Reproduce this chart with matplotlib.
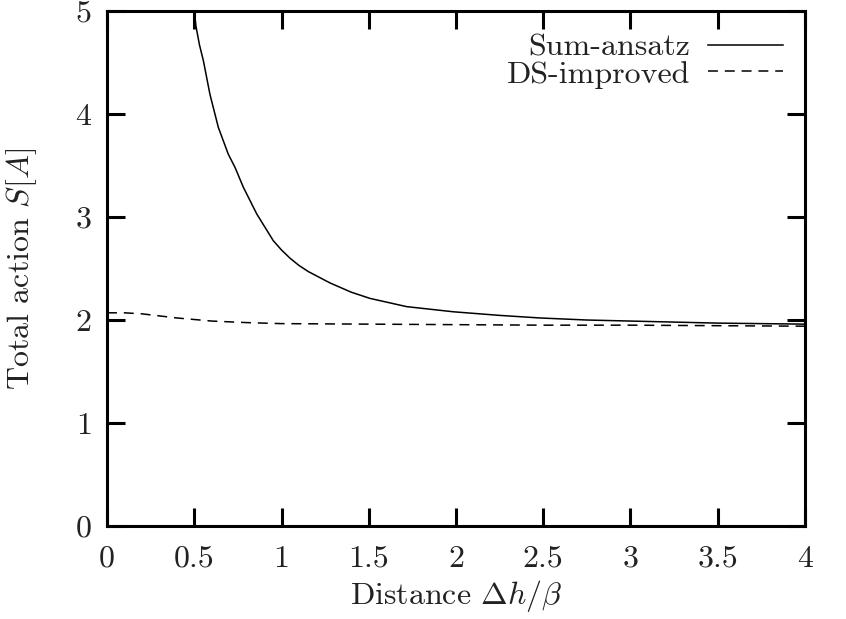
import matplotlib
matplotlib.use("Agg")
import matplotlib.pyplot as plt
import numpy as np

plt.rcParams['font.family'] = 'serif'
plt.rcParams['font.serif'] = ['cmr10']
plt.rcParams['mathtext.fontset'] = 'cm'
plt.rcParams['axes.formatter.use_mathtext'] = True

# Sum-ansatz curve
sum_x = [0.5, 0.51, 0.53, 0.552, 0.59, 0.638, 0.695, 0.734, 0.781, 0.858, 0.953, 1.0, 1.049,
         1.1, 1.154, 1.278, 1.4, 1.507, 1.717, 1.985, 2.25, 2.481, 2.75, 3.0, 3.5, 4.0]
sum_y = [5.0, 4.85, 4.67, 4.52, 4.19, 3.87, 3.61, 3.48, 3.29, 3.03, 2.77, 2.68, 2.60,
         2.53, 2.47, 2.36, 2.27, 2.21, 2.13, 2.08, 2.045, 2.02, 2.0, 1.99, 1.97, 1.96]

# DS-improved curve
ds_x = [0, 0.1, 0.2, 0.3, 0.4, 0.5, 0.6, 0.8, 1.0, 1.5, 2.0, 2.5, 3.0, 3.5, 4.0]
ds_y = [2.07, 2.07, 2.06, 2.04, 2.02, 2.005, 1.99, 1.975, 1.965, 1.96, 1.955, 1.95, 1.95, 1.945, 1.94]

xticks = [0, 0.5, 1, 1.5, 2, 2.5, 3, 3.5, 4]
xticklabels = ['0', '0.5', '1', '1.5', '2', '2.5', '3', '3.5', '4']
yticks = [0, 1, 2, 3, 4, 5]

fig = plt.figure(figsize=(8.46, 6.19), dpi=100)
ax = fig.add_axes([0.1265, 0.1502, 0.8250, 0.8320])

ax.plot(sum_x, sum_y, color='black', lw=1.1, label='Sum-ansatz')
ax.plot(ds_x, ds_y, color='black', lw=1.1, dashes=(6.5, 4.5), label='DS-improved')

ax.set_xlim(0, 4)
ax.set_ylim(0, 5)
ax.set_xticks(xticks)
ax.set_xticklabels(xticklabels)
ax.set_yticks(yticks)

for s in ax.spines.values():
    s.set_linewidth(2.2)
ax.tick_params(direction='in', length=13, width=2.2, top=True, right=True,
               labelsize=23, colors='black')
ax.tick_params(axis='x', pad=14)
ax.tick_params(axis='y', pad=11)
for lab in ax.get_xticklabels() + ax.get_yticklabels():
    lab.set_color('#222222')

ax.set_xlabel(r'Distance $\Delta h/\beta$', fontsize=23, color='#222222', labelpad=4)
ax.set_ylabel(r'Total action $S[A]$', fontsize=23, color='#222222', labelpad=26)

leg = ax.legend(loc='upper right', frameon=False, markerfirst=False, fontsize=23,
                handlelength=2.35, handletextpad=0.55, labelspacing=-0.05,
                borderaxespad=0.6, borderpad=0.1)
for t in leg.get_texts():
    t.set_color('#222222')

fig.savefig('out.png', dpi=100)
